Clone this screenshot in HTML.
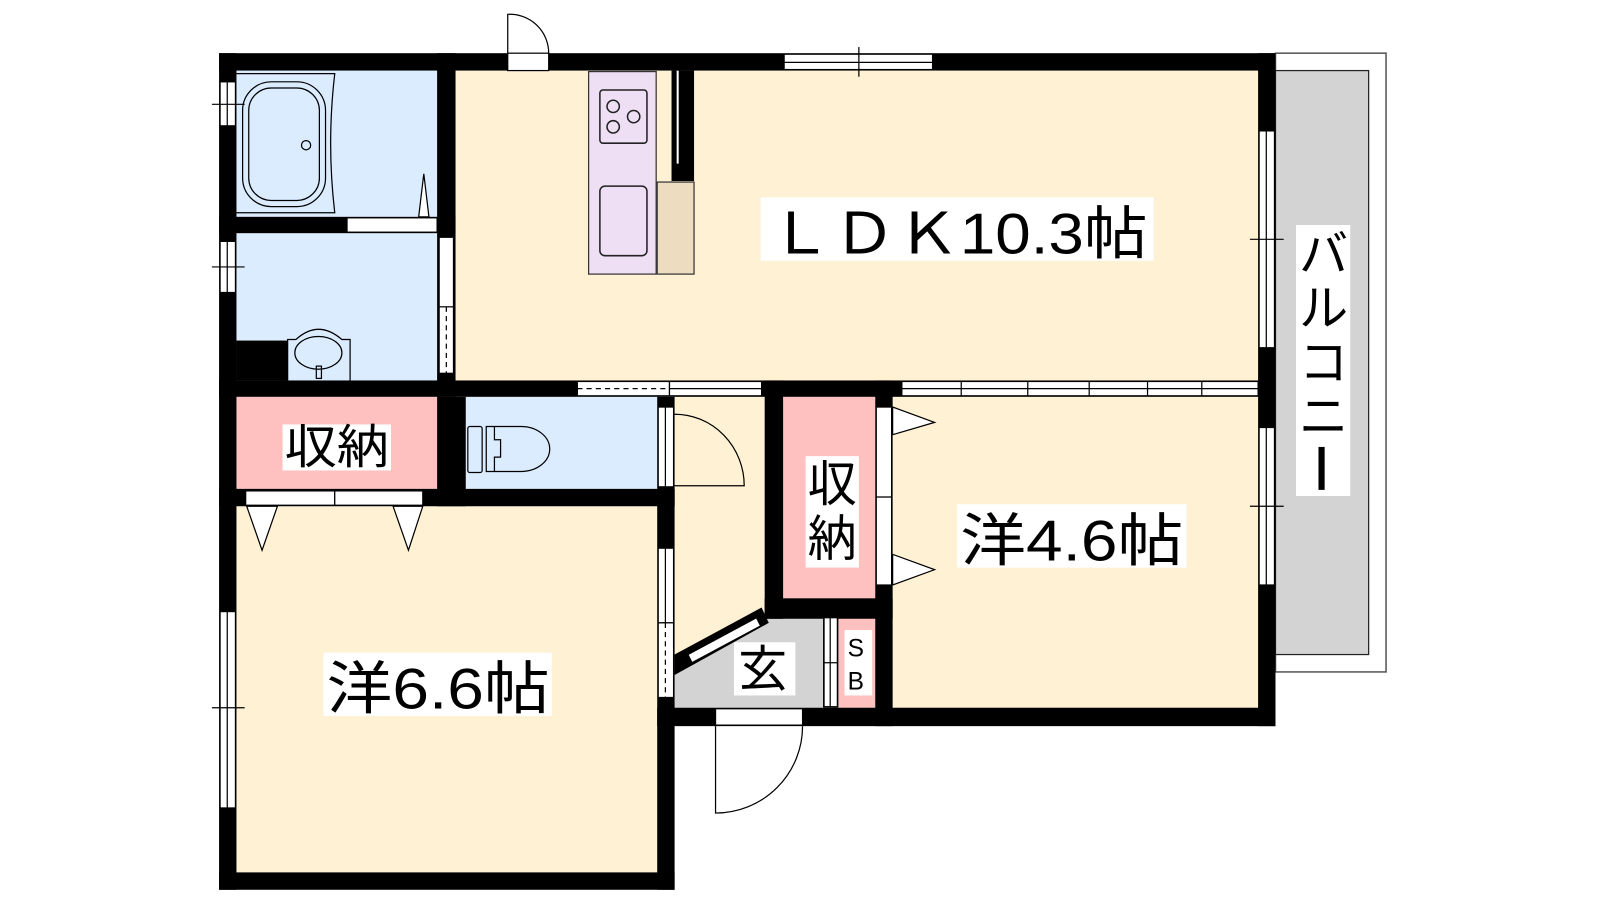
<!DOCTYPE html>
<html><head><meta charset="utf-8"><style>
html,body{margin:0;padding:0;background:#fff;width:1600px;height:900px;overflow:hidden}
svg{display:block}
text{font-family:"Liberation Sans","Noto Sans CJK JP",sans-serif;fill:#000}
</style></head><body>
<svg width="1600" height="900" viewBox="1 0 1563 880" preserveAspectRatio="none" xmlns="http://www.w3.org/2000/svg">
<rect x="1247" y="52" width="108" height="605" fill="#fff" stroke="#555" stroke-width="1.5"/>
<rect x="1247" y="69" width="91" height="571" fill="#d3d3d3" stroke="#222" stroke-width="1.2"/>
<rect x="446" y="69" width="784" height="303" fill="#fff1d3"/>
<rect x="232" y="69" width="196" height="143" fill="#dbecff"/>
<rect x="232" y="228" width="196" height="144" fill="#dbecff"/>
<rect x="232" y="388" width="196" height="90" fill="#ffc0c0"/>
<rect x="456" y="388" width="187" height="90" fill="#dbecff"/>
<rect x="232" y="495" width="411" height="358" fill="#fff1d3"/>
<rect x="660" y="388" width="88" height="304" fill="#fff1d3"/>
<rect x="766" y="388" width="90" height="197" fill="#ffc0c0"/>
<rect x="873" y="388" width="357" height="304" fill="#fff1d3"/>
<polygon points="660,692 660,650 748,603 805,603 805,692" fill="#d3d3d3"/>
<rect x="820" y="603" width="36" height="89" fill="#ffc0c0"/>
<rect x="576" y="70" width="66" height="198" fill="#eedff5" stroke="#333" stroke-width="1.2"/>
<rect x="643" y="178" width="36" height="90" fill="#eddcc0" stroke="#333" stroke-width="1.2"/>
<rect x="587" y="88" width="46" height="52" rx="3" fill="none" stroke="#222" stroke-width="1.5"/>
<circle cx="600" cy="104" r="6" fill="none" stroke="#222" stroke-width="1.5"/>
<circle cx="620" cy="114" r="6" fill="none" stroke="#222" stroke-width="1.5"/>
<circle cx="600" cy="124" r="6" fill="none" stroke="#222" stroke-width="1.5"/>
<rect x="587" y="182" width="46" height="68" rx="5" fill="none" stroke="#222" stroke-width="1.5"/>
<rect x="657" y="69" width="22" height="108" fill="#000"/>
<line x1="663" y1="69" x2="663" y2="160" stroke="#fff" stroke-width="2"/>
<g fill="#000">
<rect x="215" y="52" width="1032" height="17"/>
<rect x="215" y="52" width="17" height="818"/>
<rect x="1230" y="52" width="17" height="658"/>
<rect x="643" y="692" width="604" height="18"/>
<rect x="215" y="853" width="445" height="17"/>
<rect x="643" y="478" width="17" height="392"/>
<rect x="428" y="52" width="18" height="336"/>
<rect x="215" y="212" width="231" height="16"/>
<rect x="215" y="372" width="1032" height="16"/>
<rect x="232" y="333" width="50" height="39"/>
<rect x="428" y="388" width="28" height="107"/>
<rect x="215" y="478" width="445" height="17"/>
<rect x="643" y="388" width="17" height="107"/>
<rect x="748" y="372" width="18" height="233"/>
<rect x="748" y="585" width="125" height="20"/>
<rect x="856" y="372" width="17" height="338"/>
<polygon points="660,640 745,594 752,609 660,660"/>
<rect x="805" y="603" width="15" height="89"/>
</g>
<g fill="#fff" stroke="#000" stroke-width="1.2">
<rect x="497" y="52" width="40" height="17"/>
<rect x="767" y="53" width="145" height="15"/>
<rect x="216" y="80" width="15" height="43"/>
<rect x="216" y="236" width="15" height="50"/>
<rect x="216" y="598" width="15" height="192"/>
<rect x="1231" y="128" width="15" height="212"/>
<rect x="1231" y="418" width="15" height="154"/>
<rect x="340" y="213" width="88" height="14"/>
<rect x="430" y="232" width="14" height="133"/>
<rect x="565" y="373" width="90" height="14"/>
<rect x="655" y="373" width="90" height="14"/>
<rect x="882" y="373" width="348" height="14"/>
<rect x="241" y="480" width="87" height="14"/>
<rect x="328" y="480" width="86" height="14"/>
<rect x="644" y="398" width="15" height="78"/>
<rect x="644" y="536" width="15" height="73"/>
<rect x="644" y="609" width="15" height="73"/>
<rect x="857" y="398" width="15" height="88"/>
<rect x="857" y="486" width="15" height="86"/>
<polygon points="673,640 740,604 744,612 677,648"/>
<rect x="806" y="604" width="13" height="87"/>
<rect x="700" y="693" width="85" height="16"/>
</g>
<g stroke="#000" stroke-width="1.2" fill="none">
<line x1="767" y1="61" x2="912" y2="61"/><line x1="840" y1="46" x2="840" y2="75"/>
<line x1="223" y1="80" x2="223" y2="123"/><line x1="208" y1="102" x2="240" y2="102"/>
<line x1="223" y1="236" x2="223" y2="286"/><line x1="208" y1="261" x2="240" y2="261"/>
<line x1="223" y1="598" x2="223" y2="790"/><line x1="208" y1="692" x2="240" y2="692"/>
<line x1="1238" y1="128" x2="1238" y2="340"/><line x1="1222" y1="234" x2="1255" y2="234"/>
<line x1="1238" y1="418" x2="1238" y2="572"/><line x1="1222" y1="495" x2="1255" y2="495"/>
<line x1="437" y1="300" x2="437" y2="365" stroke-dasharray="5,4"/><line x1="430" y1="300" x2="444" y2="300"/>
<line x1="565" y1="380" x2="655" y2="380" stroke-dasharray="5,4"/>
<line x1="655" y1="380" x2="745" y2="380"/>
<line x1="882" y1="380" x2="1230" y2="380"/>
<line x1="940" y1="373" x2="940" y2="387"/><line x1="1005" y1="373" x2="1005" y2="387"/><line x1="1065" y1="373" x2="1065" y2="387"/><line x1="1122" y1="373" x2="1122" y2="387"/><line x1="1175" y1="373" x2="1175" y2="387"/>
<line x1="651" y1="398" x2="651" y2="476"/>
<line x1="651" y1="536" x2="651" y2="609"/>
<line x1="651" y1="609" x2="651" y2="682" stroke-dasharray="5,4"/>
<line x1="812" y1="604" x2="812" y2="691"/><line x1="806" y1="648" x2="819" y2="648"/>
<path d="M497,52 L497,14 A38,38 0 0 1 537,52"/>
<path d="M660,475 L728,475 A68,70 0 0 0 660,405"/>
<path d="M700,710 L700,795 A85,85 0 0 0 785,710"/>
<path d="M232,72 L328,72 Q320,140 328,208 L232,208"/>
<rect x="238" y="80" width="81" height="122" rx="28"/>
<rect x="244" y="86" width="69" height="110" rx="22"/>
<circle cx="300" cy="142" r="4.5"/>
<path d="M282,372 L282,332 L290,332 Q312,312 335,332 L343,332 L343,372"/>
<ellipse cx="312" cy="345" rx="23" ry="16"/>
<rect x="310" y="358" width="5" height="12"/>
<rect x="458" y="417" width="14" height="45" rx="2"/>
<path d="M476,417 L510,417 A28,22 0 0 1 510,461 L476,461 Z"/>
<path d="M484,417 L484,430 L490,430 L490,447 L484,447 L484,461"/>
</g>
<g fill="#fff" stroke="#000" stroke-width="1.2">
<polygon points="410,212 420,212 415,170"/>
<polygon points="242,495 272,495 257,538"/>
<polygon points="385,495 414,495 400,538"/>
<polygon points="873,398 873,425 914,413"/>
<polygon points="873,542 873,572 914,557"/>
</g>
<rect x="744" y="193" width="384" height="62" fill="#fff"/>
<text x="752" y="248" font-size="56" textLength="370" lengthAdjust="spacingAndGlyphs">ＬＤＫ10.3帖</text>
<rect x="936" y="493" width="224" height="62" fill="#fff"/>
<text x="939" y="548" font-size="56" textLength="218" lengthAdjust="spacingAndGlyphs">洋4.6帖</text>
<rect x="317" y="638" width="223" height="62" fill="#fff"/>
<text x="320" y="693" font-size="56" textLength="218" lengthAdjust="spacingAndGlyphs">洋6.6帖</text>
<rect x="277" y="415" width="106" height="45" fill="#fff"/>
<text x="279" y="453" font-size="46" textLength="102" lengthAdjust="spacingAndGlyphs">収納</text>
<rect x="788" y="446" width="52" height="109" fill="#fff"/>
<text x="790" y="490" font-size="48">収</text>
<text x="790" y="543" font-size="48">納</text>
<rect x="718" y="628" width="60" height="52" fill="#fff"/>
<text x="722" y="671" font-size="48">玄</text>
<rect x="826" y="616" width="27" height="64" fill="#fff"/>
<text x="829" y="642" font-size="24">S</text>
<text x="829" y="674" font-size="24">B</text>
<rect x="1267" y="220" width="53" height="265" fill="#fff"/>
<text x="1270" y="265" font-size="48">バ</text>
<text x="1270" y="318" font-size="48">ル</text>
<text x="1270" y="371" font-size="48">コ</text>
<text x="1270" y="424" font-size="48">ニ</text>
<rect x="1289" y="437" width="6" height="42" fill="#000"/>
</svg>
</body></html>
